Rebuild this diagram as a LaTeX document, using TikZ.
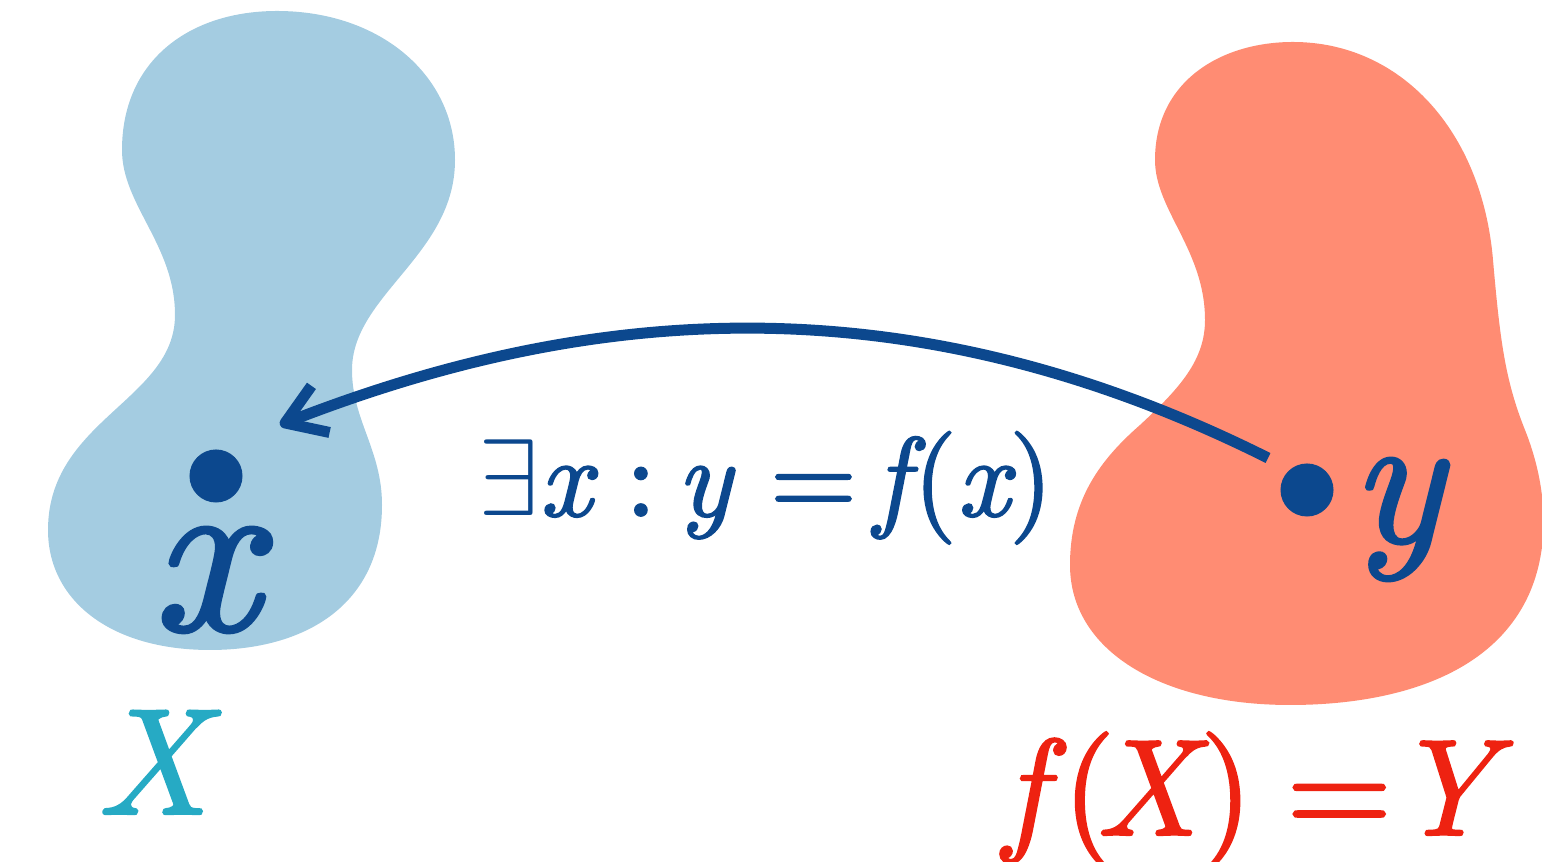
\documentclass[tikz,border=0pt]{standalone}
\usepackage{fontspec}
\usepackage{graphicx}
\usetikzlibrary{arrows.meta}
\newfontfamily\itheavy{lmroman10-italic.otf}[FakeBold=1.6]
\newfontfamily\rmheavy{lmroman10-regular.otf}[FakeBold=1.6]
\definecolor{blobblue}{HTML}{A4CCE1}
\definecolor{blobsalmon}{HTML}{FF8C73}
\definecolor{inkblue}{HTML}{0C488E}
\definecolor{labelcyan}{HTML}{26AAC4}
\definecolor{labelred}{HTML}{EE2211}
\newcommand{\bigexists}{\scalebox{3.1}{\fontsize{10}{12}\selectfont$\exists$}}
\newcommand{\vi}[1]{{\itheavy #1}}
\tikzset{
  dotnode/.style={circle, fill=inkblue, inner sep=0pt, minimum size=0.53cm},
  textlbl/.style={inner sep=0pt, anchor=base},
  maparrow/.style={draw=inkblue, line width=1.1mm, line join=round,
    -{Straight Barb[length=3.8mm, width=5.0mm, line join=round]}},
}
\begin{document}
\begin{tikzpicture}[x=0.01cm, y=-0.01cm]
\useasboundingbox (0,0) rectangle (1542,862);
% domain X
\fill[blobblue] (277,11)
  .. controls (380,11) and (455,75) .. (455,160)
  .. controls (455,255) and (352,295) .. (352,370)
  .. controls (352,420) and (382,450) .. (382,505)
  .. controls (382,605) and (305,650) .. (210,650)
  .. controls (110,650) and (48,600) .. (48,530)
  .. controls (48,420) and (175,400) .. (175,315)
  .. controls (175,245) and (122,205) .. (122,150)
  .. controls (122,60) and (190,11) .. (277,11) -- cycle;
% image f(X)
\fill[blobsalmon] (1293,42)
  .. controls (1400,42) and (1482,130) .. (1493,260)
  .. controls (1500,340) and (1505,380) .. (1525,430)
  .. controls (1545,480) and (1552,540) .. (1530,592)
  .. controls (1492,680) and (1385,705) .. (1290,705)
  .. controls (1160,705) and (1070,650) .. (1070,565)
  .. controls (1070,500) and (1100,460) .. (1140,425)
  .. controls (1180,388) and (1205,360) .. (1205,320)
  .. controls (1205,250) and (1155,210) .. (1155,160)
  .. controls (1155,82) and (1220,42) .. (1293,42) -- cycle;
% points
\node[dotnode] (xdot) at (216,476) {};
\node[dotnode] (ydot) at (1307,490) {};
\node[textlbl, text=inkblue, font=\fontsize{66}{70}\itheavy] (xlab) at (205,630) {x};
\node[textlbl, text=inkblue, font=\fontsize{54}{58}\itheavy] (ylab) at (1397,542) {y};
% arrow
\coordinate (arrStart) at (1268,458);
\coordinate (arrEnd) at (280,425);
\draw[maparrow] (arrStart) .. controls (900,274) and (580,308) .. (arrEnd);
% relation
\node[inner sep=0pt, anchor=base west, text=inkblue, font=\fontsize{32}{36}\rmheavy] (rel) at (478,516)
  {\bigexists\vi{x}\hspace{0.30em}:\hspace{0.18em}\vi{y}\hspace{0.34em}=\hspace{0.15em}\vi{f}\hspace{0.04em}(\vi{x})};
% set labels
\node[textlbl, text=labelcyan, font=\fontsize{43}{47}\itheavy] (Xlab) at (152,814) {X};
\node[inner sep=0pt, anchor=base west, text=labelred, font=\fontsize{39}{43}\rmheavy] (FXlab) at (1003,835)
  {\vi{f}\hspace{0.12em}(\hspace{-0.15em}\vi{X}\hspace{0.02em})\hspace{0.24em}=\hspace{0.0em}\vi{Y}};
\end{tikzpicture}
\end{document}
